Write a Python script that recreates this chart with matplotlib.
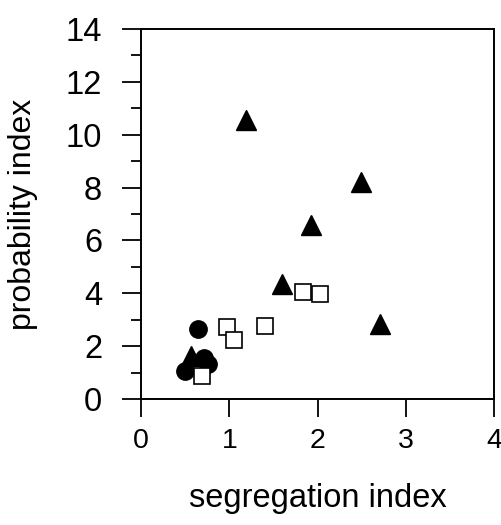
import matplotlib
matplotlib.use("Agg")
import matplotlib.pyplot as plt
from matplotlib.ticker import MultipleLocator

plt.rcParams['font.family'] = ['Liberation Sans', 'DejaVu Sans']

tri_x = [1.19, 2.49, 1.93, 1.60, 2.71, 0.57]
tri_y = [10.56, 8.2, 6.6, 4.35, 2.85, 1.62]
sq_x = [1.84, 2.03, 1.40, 0.97, 1.05, 0.69]
sq_y = [4.04, 3.96, 2.77, 2.71, 2.23, 0.86]
circ_x = [0.65, 0.50, 0.71, 0.76]
circ_y = [2.65, 1.05, 1.55, 1.33]

fig = plt.figure(figsize=(5.02, 5.25), dpi=100)
ax = fig.add_axes([0.281, 0.24, 0.703, 0.705])

ax.plot(tri_x, tri_y, linestyle='none', marker='^', ms=14, color='black', zorder=3)
ax.plot(circ_x, circ_y, linestyle='none', marker='o', ms=12.5, color='black', zorder=4)
ax.plot(sq_x, sq_y, linestyle='none', marker='s', ms=11, markerfacecolor='white',
        markeredgecolor='black', markeredgewidth=1.2, zorder=5)

ax.set_xlim(0, 4)
ax.set_ylim(0, 14)
ax.xaxis.set_major_locator(MultipleLocator(1))
ax.yaxis.set_major_locator(MultipleLocator(2))
ax.yaxis.set_minor_locator(MultipleLocator(1))

for s in ax.spines.values():
    s.set_linewidth(1.4)

ax.tick_params(axis='y', which='major', direction='out', length=14, width=1.3,
               labelsize=23.5, pad=14, right=False)
ax.tick_params(axis='y', which='minor', direction='out', length=7, width=1.3,
               right=False)
ax.tick_params(axis='x', which='both', direction='out', length=13, width=1.3,
               labelsize=20.5, pad=8, top=False)

ax.set_xlabel('segregation index', fontsize=23.5, labelpad=21)
ax.set_ylabel('probability index', fontsize=23, labelpad=20)

fig.savefig('out.png', dpi=100)
